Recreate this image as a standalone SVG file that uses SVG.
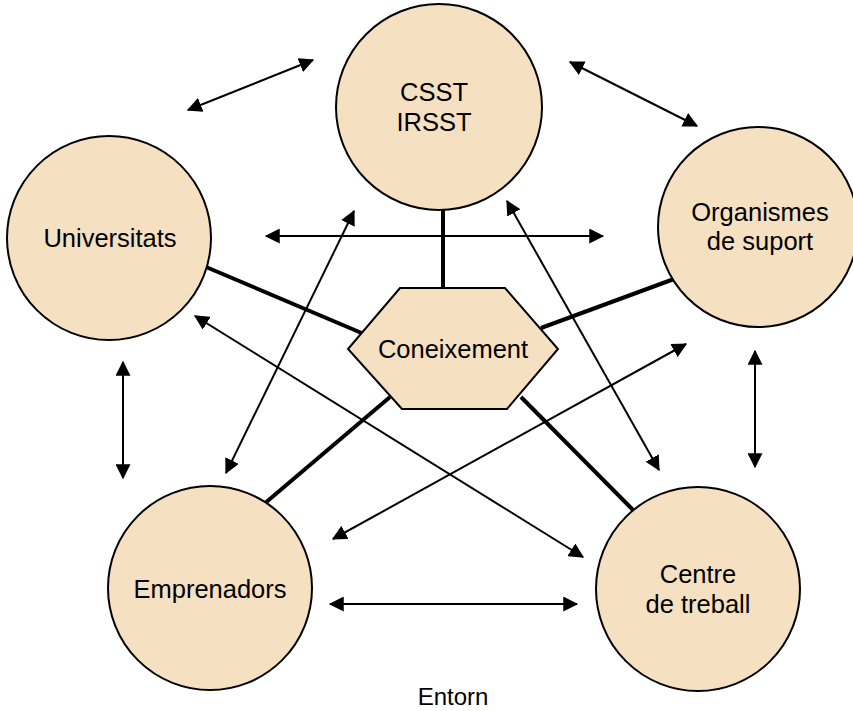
<svg xmlns="http://www.w3.org/2000/svg" width="853" height="711" viewBox="0 0 853 711">
<style>
.node{fill:#F5E1C1;stroke:#000;stroke-width:2}
.t{font-family:"Liberation Sans",Arial,sans-serif;font-size:25.5px;fill:#000;text-anchor:middle}
.link{stroke:#000;stroke-width:4;fill:none}
.arr{stroke:#000;stroke-width:2;fill:none;marker-start:url(#ah);marker-end:url(#ah)}
</style>
<defs>
<marker id="ah" viewBox="0 0 12 12" refX="11" refY="6" markerWidth="15" markerHeight="15" markerUnits="userSpaceOnUse" orient="auto-start-reverse">
<path d="M0,0 L12,6 L0,12 Z" fill="#000"/>
</marker>
</defs>
<rect width="853" height="711" fill="#fff"/>
<g id="connectors">
<line class="link" x1="443" y1="208" x2="443" y2="290"/>
<line class="link" x1="206" y1="267" x2="364" y2="334"/>
<line class="link" x1="674" y1="279" x2="541" y2="328"/>
<line class="link" x1="264" y1="504" x2="390" y2="397"/>
<line class="link" x1="634" y1="511" x2="521" y2="397"/>
<line class="arr" x1="188" y1="110" x2="313" y2="60"/>
<line class="arr" x1="570" y1="62" x2="697" y2="126"/>
<line class="arr" x1="266" y1="236" x2="603" y2="236"/>
<line class="arr" x1="123" y1="362" x2="123" y2="478"/>
<line class="arr" x1="755" y1="351" x2="755" y2="467"/>
<line class="arr" x1="330" y1="604" x2="577" y2="604"/>
<line class="arr" x1="354" y1="211" x2="226" y2="473"/>
<line class="arr" x1="507" y1="201" x2="659" y2="470"/>
<line class="arr" x1="195" y1="316" x2="583" y2="557"/>
<line class="arr" x1="686" y1="344" x2="333" y2="539"/>
</g>
<g id="csst">
<circle class="node" cx="439" cy="107" r="103"/>
<text class="t" x="434" y="101">CSST</text>
<text class="t" x="434" y="131">IRSST</text>
</g>
<g id="universitats">
<circle class="node" cx="109" cy="238" r="102"/>
<text class="t" x="110" y="247">Universitats</text>
</g>
<g id="organismes">
<circle class="node" cx="758" cy="227" r="100"/>
<text class="t" x="760" y="221">Organismes</text>
<text class="t" x="760" y="250">de suport</text>
</g>
<g id="emprenadors">
<circle class="node" cx="210" cy="588" r="102"/>
<text class="t" x="210" y="598">Emprenadors</text>
</g>
<g id="centre">
<circle class="node" cx="698" cy="589" r="102"/>
<text class="t" x="698" y="583">Centre</text>
<text class="t" x="698" y="613">de treball</text>
</g>
<g id="coneixement">
<polygon class="node" points="400,288 505,288 558,349 507,409 402,409 348,349"/>
<text class="t" x="453" y="358">Coneixement</text>
</g>
<g id="entorn">
<text class="t" x="453" y="705" style="font-size:24px">Entorn</text>
</g>
</svg>
